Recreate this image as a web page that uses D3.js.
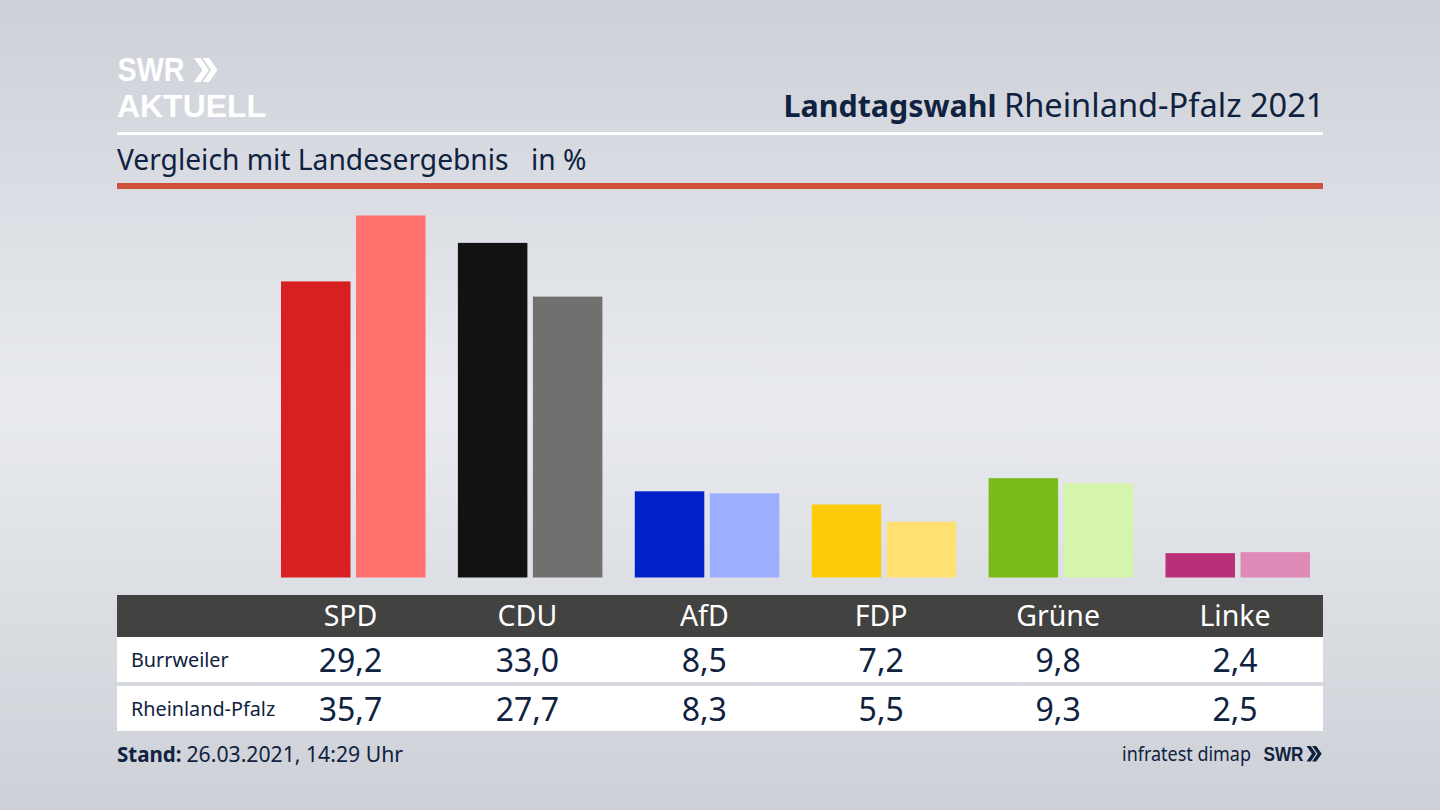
<!DOCTYPE html>
<html>
<head>
<meta charset="utf-8">
<script src="https://cdn.jsdelivr.net/npm/d3@7"></script>
<style>
  html, body { margin: 0; padding: 0; background: #d0d3d9; }
  svg { display: block; }
  text { font-family: "Noto Sans", sans-serif; }
</style>
</head>
<body>
<div id="chart"></div>
<script>
// data
var parties = ["SPD", "CDU", "AfD", "FDP", "Grüne", "Linke"];
var rows = ["Burrweiler", "Rheinland-Pfalz"];
var burrweiler = [29.2, 33.0, 8.5, 7.2, 9.8, 2.4];
var rheinlandPfalz = [35.7, 27.7, 8.3, 5.5, 9.3, 2.5];
var darkColors = ["#d7201f", "#121212", "#0020c8", "#ffcc0a", "#78bc1b", "#b92f78"];
var lightColors = ["#ff716c", "#72706e", "#9dadff", "#ffe070", "#d5f5ad", "#e08ab8"];

var navy = "#0f2240";
var fmt = function(v) { return v.toFixed(1).replace(".", ","); };

var svg = d3.select("#chart").append("svg")
  .attr("width", 1440)
  .attr("height", 810);

// background
var grad = svg.append("defs").append("linearGradient")
  .attr("id", "bg").attr("x1", 0).attr("y1", 0).attr("x2", 0).attr("y2", 1);
grad.append("stop").attr("offset", "0%").attr("stop-color", "#cdd0d7");
grad.append("stop").attr("offset", "50%").attr("stop-color", "#e9ebf0");
grad.append("stop").attr("offset", "100%").attr("stop-color", "#cdd0d6");
svg.append("rect").attr("width", 1440).attr("height", 810).attr("fill", "url(#bg)");

// scales
var x = d3.scalePoint().domain(parties).range([350.5, 1235]);
var y = d3.scaleLinear().domain([0, 35.7]).range([577.5, 215.5]);
var barW = 69.5, gap = 5.5;

// logo, text squeezed to the width of the original lettering
function logoText(x0, y0, size, len, col, txt) {
  svg.append("text").attr("x", x0).attr("y", y0)
    .attr("textLength", len).attr("lengthAdjust", "spacingAndGlyphs")
    .attr("fill", col).style("font-family", "Liberation Sans").style("font-weight", 700)
    .style("font-size", size + "px").text(txt);
}
function chevrons(x0, y0, h, col) {
  var w = h * 0.35, t = h * 0.27;
  [0, h * 0.36].forEach(function(o) {
    var a = x0 + o;
    svg.append("path")
      .attr("d", d3.line()([[a, y0], [a + t, y0], [a + t + w, y0 + h / 2], [a + t, y0 + h], [a, y0 + h], [a + w, y0 + h / 2]]) + "Z")
      .attr("fill", col);
  });
}
logoText(117.5, 81, 33, 67, "#fff", "SWR");
logoText(117, 116.5, 31.5, 149, "#fff", "AKTUELL");
chevrons(194, 58, 24, "#fff");

// header
svg.append("text").attr("x", 783.5).attr("y", 117).attr("fill", navy)
  .style("font-weight", 700).style("font-size", "30.4px").text("Landtagswahl");
svg.append("text").attr("x", 1324.5).attr("y", 117).attr("text-anchor", "end").attr("fill", navy)
  .style("font-size", "32.6px").text("Rheinland-Pfalz 2021");
svg.append("rect").attr("x", 117).attr("y", 132).attr("width", 1206).attr("height", 3).attr("fill", "#fff");
svg.append("text").attr("x", 117).attr("y", 170).attr("fill", navy)
  .style("font-size", "28.2px").text("Vergleich mit Landesergebnis");
svg.append("text").attr("x", 531).attr("y", 170).attr("fill", navy)
  .style("font-size", "28.2px").text("in %");
svg.append("rect").attr("x", 117).attr("y", 183).attr("width", 1206).attr("height", 6).attr("fill", "#cd5038");

// bars
svg.append("g").selectAll("rect")
  .data(parties)
  .enter().append("rect")
    .attr("x", function(d) { return x(d) - barW; })
    .attr("y", function(d, i) { return y(burrweiler[i]); })
    .attr("width", barW)
    .attr("height", function(d, i) { return y(0) - y(burrweiler[i]); })
    .attr("fill", function(d, i) { return darkColors[i]; });
svg.append("g").selectAll("rect")
  .data(parties)
  .enter().append("rect")
    .attr("x", function(d) { return x(d) + gap; })
    .attr("y", function(d, i) { return y(rheinlandPfalz[i]); })
    .attr("width", barW)
    .attr("height", function(d, i) { return y(0) - y(rheinlandPfalz[i]); })
    .attr("fill", function(d, i) { return lightColors[i]; });

// table
svg.append("rect").attr("x", 117).attr("y", 595).attr("width", 1206).attr("height", 42).attr("fill", "#424240");
svg.append("rect").attr("x", 117).attr("y", 637).attr("width", 1206).attr("height", 45).attr("fill", "#fff");
svg.append("rect").attr("x", 117).attr("y", 686).attr("width", 1206).attr("height", 45).attr("fill", "#fff");

svg.append("g").selectAll("text")
  .data(parties)
  .enter().append("text")
    .attr("x", function(d) { return x(d); })
    .attr("y", 625.5)
    .attr("text-anchor", "middle")
    .attr("fill", "#fff")
    .style("font-size", "28.5px")
    .text(function(d) { return d; });

[burrweiler, rheinlandPfalz].forEach(function(vals, r) {
  var base = 671.5 + r * 49;
  svg.append("text").attr("x", 131).attr("y", base - 5).attr("fill", navy)
    .style("font-size", "19.8px").text(rows[r]);
  svg.append("g").selectAll("text")
    .data(vals)
    .enter().append("text")
      .attr("x", function(d, i) { return x(parties[i]); })
      .attr("y", base)
      .attr("text-anchor", "middle")
      .attr("fill", navy)
      .style("font-size", "32px")
      .text(fmt);
});

// footer
svg.append("text").attr("x", 117).attr("y", 762).attr("fill", navy)
  .style("font-weight", 700).style("font-size", "20.5px").text("Stand:");
svg.append("text").attr("x", 186.5).attr("y", 762).attr("fill", navy)
  .style("font-size", "21.2px").text("26.03.2021, 14:29 Uhr");
svg.append("text").attr("x", 1122).attr("y", 761).attr("fill", navy)
  .attr("textLength", 129).attr("lengthAdjust", "spacingAndGlyphs")
  .style("font-size", "19.5px").text("infratest dimap");
logoText(1263.5, 761, 21, 40, navy, "SWR");
chevrons(1306.5, 746, 15.5, navy);
</script>
</body>
</html>
